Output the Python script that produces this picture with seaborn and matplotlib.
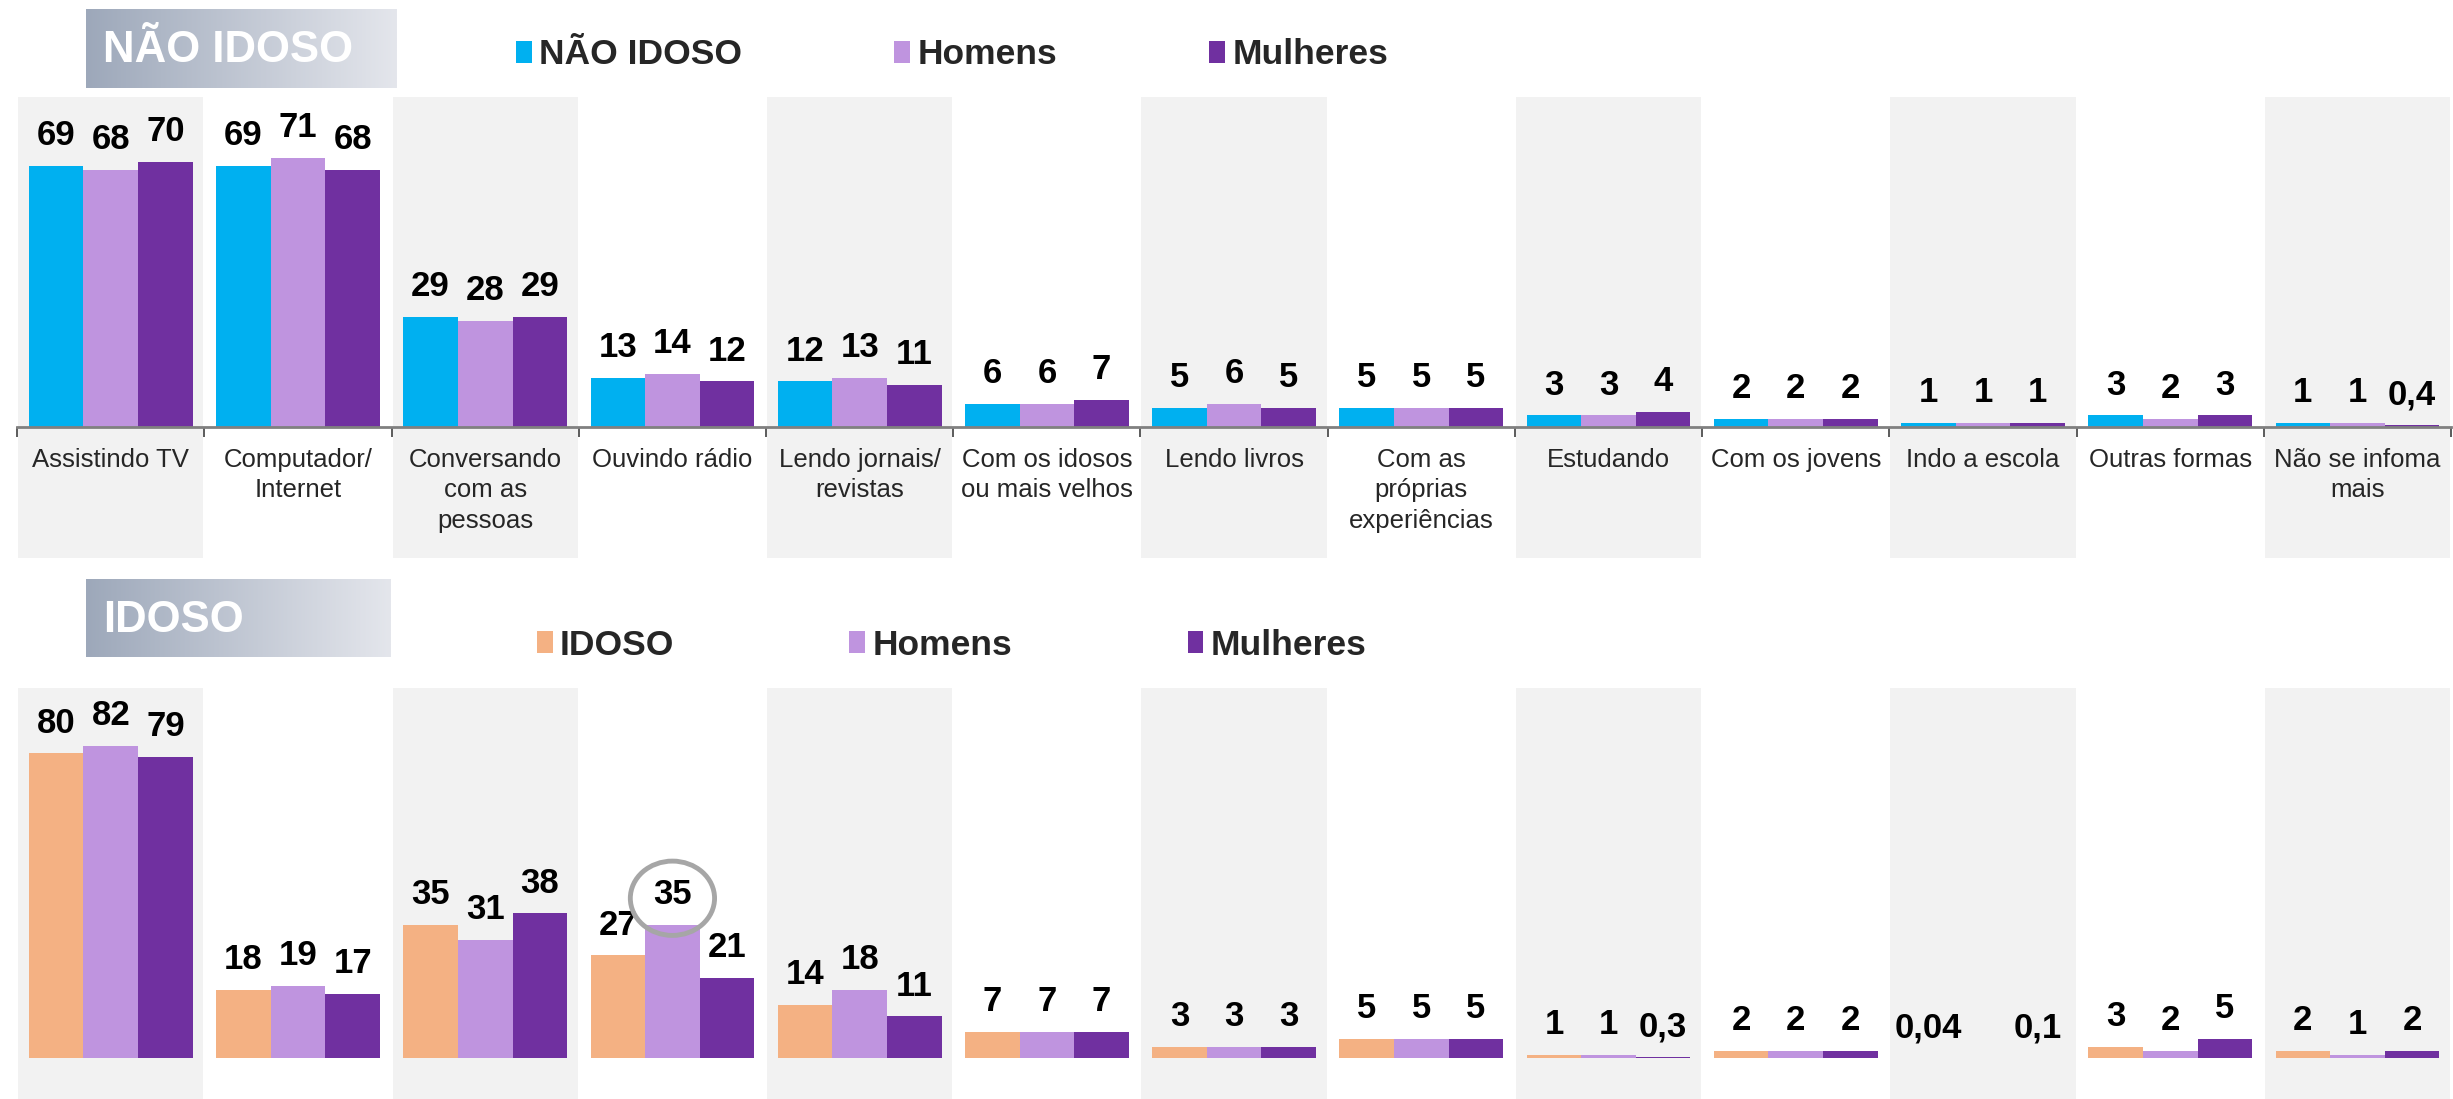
import matplotlib
matplotlib.use("Agg")
import matplotlib.pyplot as plt
import matplotlib.colors as mcolors
from matplotlib.patches import Patch, Ellipse
import seaborn as sns
import numpy as np
import pandas as pd

# categorias (rótulos do eixo x)
categorias = ["Assistindo TV", "Computador/\nInternet", "Conversando\ncom as\npessoas",
              "Ouvindo rádio", "Lendo jornais/\nrevistas", "Com os idosos\nou mais velhos",
              "Lendo livros", "Com as\npróprias\nexperiências", "Estudando", "Com os jovens",
              "Indo a escola", "Outras formas", "Não se infoma\nmais"]

# NÃO IDOSO
nao_idoso_total = [69, 69, 29, 13, 12, 6, 5, 5, 3, 2, 1, 3, 1]
nao_idoso_homens = [68, 71, 28, 14, 13, 6, 6, 5, 3, 2, 1, 2, 1]
nao_idoso_mulheres = [70, 68, 29, 12, 11, 7, 5, 5, 4, 2, 1, 3, 0.4]

# IDOSO (sem valor para homens em "Indo a escola")
idoso_total = [80, 18, 35, 27, 14, 7, 3, 5, 1, 2, 0.04, 3, 2]
idoso_homens = [82, 19, 31, 35, 18, 7, 3, 5, 1, 2, np.nan, 2, 1]
idoso_mulheres = [79, 17, 38, 21, 11, 7, 3, 5, 0.3, 2, 0.1, 5, 2]

grupos_top = ["NÃO IDOSO", "Homens", "Mulheres"]
grupos_bot = ["IDOSO", "Homens", "Mulheres"]
cores_top = ["#00B0F0", "#BF94DF", "#7030A0"]
cores_bot = ["#F4B183", "#BF94DF", "#7030A0"]
destaque = (3, 1)  # Ouvindo rádio / Homens no IDOSO

sns.set_theme(style="white")
plt.rcParams["font.family"] = ["Liberation Sans", "DejaVu Sans"]


def long_df(series, grupos):
    rows = []
    for g, vals in zip(grupos, series):
        for c, v in zip(categorias, vals):
            rows.append({"categoria": c, "grupo": g, "valor": v})
    return pd.DataFrame(rows)


def fmt(v):
    if pd.isna(v):
        return ""
    return f"{v:g}".replace(".", ",")


def painel(ax, series, grupos, cores, ylim):
    df = long_df(series, grupos)
    df["plot"] = df["valor"].fillna(0)
    for i in range(0, len(categorias), 2):
        ax.axvspan(i - 0.495, i + 0.495, color="#F2F2F2", zorder=0, lw=0)
    sns.barplot(data=df, x="categoria", y="plot", hue="grupo", hue_order=grupos,
                order=categorias, palette=cores, saturation=1, width=0.875,
                errorbar=None, legend=False, linewidth=0, ax=ax)
    for cont, vals in zip(ax.containers, series):
        ax.bar_label(cont, labels=[fmt(v) for v in vals], padding=10,
                     fontsize=25, fontweight="bold", color="black")
    ax.set_ylim(*ylim)
    ax.set_xlim(-0.5, len(categorias) - 0.5)
    ax.set_xlabel("")
    ax.set_ylabel("")
    ax.set_yticks([])
    for s in ["top", "left", "right"]:
        ax.spines[s].set_visible(False)
    ax.patch.set_alpha(0)
    return df


def titulo(rect, texto):
    bx = fig.add_axes(rect)
    cmap = mcolors.LinearSegmentedColormap.from_list("g", ["#9DA8BA", "#E4E6EC"])
    bx.imshow(np.linspace(0, 1, 256)[None, :], aspect="auto", cmap=cmap, extent=[0, 1, 0, 1])
    bx.set_xlim(0, 1)
    bx.set_ylim(0, 1)
    bx.axis("off")
    bx.text(0.055, 0.47, texto, color="white", fontsize=31.5, fontweight="bold",
            va="center", ha="left")


fig = plt.figure(figsize=(24.53, 10.99), dpi=100)

# painel NÃO IDOSO
ax1 = fig.add_axes([0.007, 0.4922, 0.9922, 0.4196])
painel(ax1, [nao_idoso_total, nao_idoso_homens, nao_idoso_mulheres],
       grupos_top, cores_top, (-34.7, 87.2))
ax1.spines["bottom"].set_position(("data", 0))
ax1.spines["bottom"].set_color("#808080")
ax1.spines["bottom"].set_linewidth(2)
ax1.set_xticks(range(len(categorias)))
ax1.set_xticklabels(categorias, fontsize=18.5, linespacing=1.35, va="top")
ax1.set_xticks(np.arange(-0.5, len(categorias)), minor=True)
ax1.tick_params(axis="x", which="major", length=0, pad=15)
ax1.tick_params(axis="x", which="minor", length=7, width=1.2, color="#404040", direction="out", bottom=True)

# painel IDOSO
ax2 = fig.add_axes([0.007, 0.0, 0.9922, 0.3741])
painel(ax2, [idoso_total, idoso_homens, idoso_mulheres],
       grupos_bot, cores_bot, (-10.67, 97.2))
ax2.spines["bottom"].set_visible(False)
ax2.set_xticks([])

# círculo de destaque
ci, gi = destaque
val = [idoso_total, idoso_homens, idoso_mulheres][gi][ci]
ax2.add_patch(Ellipse((ci, val + 7), 0.45, 19.5, fill=False, edgecolor="#A6A6A6",
                      lw=3.5, zorder=5, clip_on=False))

# caixas de título
titulo([0.0351, 0.920, 0.1264, 0.0719], "NÃO IDOSO")
titulo([0.0351, 0.402, 0.1243, 0.0710], "IDOSO")

# legendas
h_top = [Patch(facecolor=c, edgecolor="none") for c in cores_top]
fig.legend(h_top, grupos_top, loc="center left", bbox_to_anchor=(0.2104, 0.950),
           ncol=3, frameon=False, borderpad=0, borderaxespad=0, handlelength=0.45,
           handleheight=0.55, handletextpad=0.2, columnspacing=4.3,
           prop={"size": 25.5, "weight": "bold"})
h_bot = [Patch(facecolor=c, edgecolor="none") for c in cores_bot]
fig.legend(h_bot, grupos_bot, loc="center left", bbox_to_anchor=(0.2188, 0.413),
           ncol=3, frameon=False, borderpad=0, borderaxespad=0, handlelength=0.45,
           handleheight=0.55, handletextpad=0.2, columnspacing=4.95,
           prop={"size": 25.5, "weight": "bold"})

fig.savefig("out.png", dpi=100)
